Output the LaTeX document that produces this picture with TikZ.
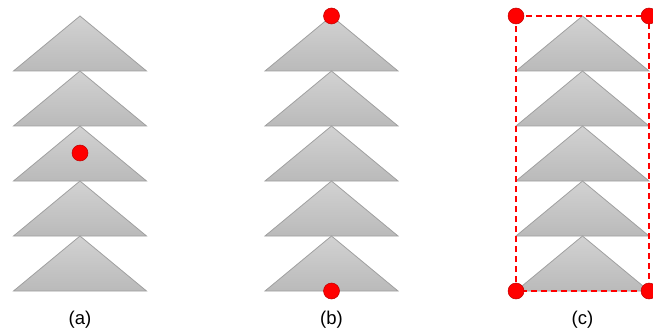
\documentclass[tikz,border=0pt]{standalone}
\usepackage{fontspec}
\setmainfont{Liberation Sans}
\usetikzlibrary{positioning}

\definecolor{trifill}{RGB}{210,210,210}
\definecolor{trishade}{RGB}{186,186,186}
\definecolor{triedge}{RGB}{160,160,160}
\definecolor{dotred}{RGB}{255,0,0}
\definecolor{dotedge}{RGB}{190,0,0}

\begin{document}
\begin{tikzpicture}[
  x=1pt, y=-1pt,
  tri/.style={draw=triedge, line width=0.8pt, top color=trifill, bottom color=trishade},
  dot/.style={circle, fill=dotred, draw=dotedge, line width=0.5pt, minimum size=16pt, inner sep=0pt},
  lbl/.style={font=\fontsize{18.5}{20}\selectfont},
  box/.style={draw=dotred, line width=1.6pt, dash pattern=on 6pt off 4pt}
]
\useasboundingbox (0,0) rectangle (653,334);

% stacks of triangles
\foreach \cx in {80, 331.5, 582.5} {
  \foreach \k in {0,...,4} {
    \path[tri] (\cx-66.5, 71+55*\k) -- (\cx, 16+55*\k) -- (\cx+66.5, 71+55*\k) -- cycle;
  }
}

% (a)
\node[dot] (mid) at (80,153) {};
\node[lbl] (la) at (80,320) {(a)};

% (b)
\node[dot] (btop) at (331.5,16) {};
\node[dot] (bbot) at (331.5,291) {};
\node[lbl] (lb) at (331.5,320) {(b)};

% (c)
\coordinate (ctl) at (516,16);
\coordinate (ctr) at (649,16);
\coordinate (cbr) at (649,291);
\coordinate (cbl) at (516,291);
\draw[box] (ctl) -- (ctr) -- (cbr) -- (cbl) -- cycle;
\node[dot] (dtl) at (ctl) {};
\node[dot] (dtr) at (ctr) {};
\node[dot] (dbr) at (cbr) {};
\node[dot] (dbl) at (cbl) {};
\node[lbl] (lc) at (582.5,320) {(c)};
\end{tikzpicture}
\end{document}
